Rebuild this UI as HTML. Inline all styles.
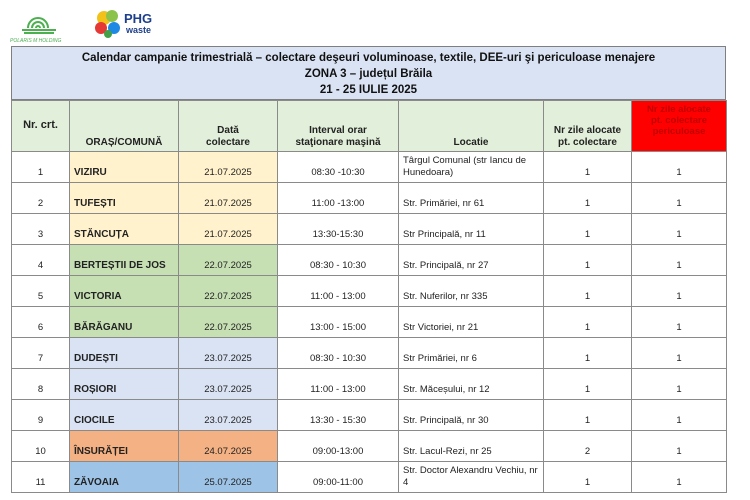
<!DOCTYPE html>
<html><head><meta charset="utf-8"><style>
body{margin:0;width:750px;height:500px;background:#fff;position:relative;overflow:hidden;font-family:"Liberation Sans",sans-serif;}
.hdr{position:absolute;left:11px;top:46px;width:715px;height:54px;background:#dae3f3;border:1px solid #7f7f7f;text-align:center;font-weight:bold;font-size:11.5px;line-height:16px;color:#111;padding-top:3px;box-sizing:border-box}
table{position:absolute;left:11px;top:100px;border-collapse:collapse;table-layout:fixed;font-size:9.5px;color:#222}
td{border:1px solid #8a8a8a;padding:0 4px 3px;vertical-align:bottom;text-align:center;height:27px;overflow:hidden;line-height:12px}
tr.h td{height:45px;background:#e2efda;font-weight:bold;font-size:10px;color:#222;padding-bottom:2px}
td.l{text-align:left}
td.n{font-weight:bold;text-align:left;font-size:10px}
.y{background:#fff2cc}.g{background:#c6e0b4}.b{background:#dae3f3}.o{background:#f4b183}.bl{background:#9dc3e6}
</style></head><body>
<svg style="position:absolute;left:8px;top:6px" width="62" height="38"><g fill="none" stroke="#4caf50" stroke-width="2"><path d="M20 22a10 10 0 0 1 20 0"/><path d="M24 22a6 6 0 0 1 12 0"/><path d="M28 22a2 2 0 0 1 4 0"/><line x1="14" y1="24" x2="48" y2="24"/><line x1="16" y1="27" x2="46" y2="27"/></g><text x="2" y="36" font-size="5" fill="#4caf50" font-style="italic">POLARIS M HOLDING</text></svg>
<svg style="position:absolute;left:92px;top:6px" width="72" height="34"><circle cx="12" cy="12" r="7" fill="#f2c21b"/><circle cx="20" cy="10" r="6" fill="#8bc34a"/><circle cx="9" cy="22" r="6" fill="#e53935"/><circle cx="22" cy="22" r="6" fill="#1e88e5"/><circle cx="16" cy="28" r="4" fill="#43a047"/><text x="32" y="17" font-size="13" font-weight="bold" fill="#1d3e8a">PHG</text><text x="34" y="27" font-size="9" font-weight="bold" fill="#1d3e8a">waste</text></svg>
<div class="hdr">Calendar campanie trimestrială – colectare deşeuri voluminoase, textile, DEE-uri şi periculoase menajere<br>ZONA 3 – județul Brăila<br>21 - 25 IULIE 2025</div>
<table>
<colgroup><col style="width:58px"><col style="width:109px"><col style="width:99px"><col style="width:121px"><col style="width:145px"><col style="width:88px"><col style="width:95px"></colgroup>
<tr class="h"><td style="vertical-align:middle;font-size:11px">Nr. crt.</td><td>ORAȘ/COMUNĂ</td><td>Dată<br>colectare</td><td>Interval orar<br>staţionare maşină</td><td>Locatie</td><td>Nr zile alocate<br>pt. colectare</td><td style="background:#ff0000;color:#c00000;vertical-align:top;padding-top:3px;font-size:9.5px;line-height:11px">Nr zile alocate<br>pt. colectare<br>periculoase</td></tr>
<tr><td>1</td><td class="n y">VIZIRU</td><td class="y">21.07.2025</td><td>08:30 -10:30</td><td class="l">Târgul Comunal (str Iancu de Hunedoara)</td><td>1</td><td>1</td></tr>
<tr><td>2</td><td class="n y">TUFEȘTI</td><td class="y">21.07.2025</td><td>11:00 -13:00</td><td class="l">Str. Primăriei, nr 61</td><td>1</td><td>1</td></tr>
<tr><td>3</td><td class="n y">STĂNCUȚA</td><td class="y">21.07.2025</td><td>13:30-15:30</td><td class="l">Str Principală, nr 11</td><td>1</td><td>1</td></tr>
<tr><td>4</td><td class="n g">BERTEȘTII DE JOS</td><td class="g">22.07.2025</td><td>08:30 - 10:30</td><td class="l">Str. Principală, nr 27</td><td>1</td><td>1</td></tr>
<tr><td>5</td><td class="n g">VICTORIA</td><td class="g">22.07.2025</td><td>11:00 - 13:00</td><td class="l">Str. Nuferilor, nr 335</td><td>1</td><td>1</td></tr>
<tr><td>6</td><td class="n g">BĂRĂGANU</td><td class="g">22.07.2025</td><td>13:00 - 15:00</td><td class="l">Str Victoriei, nr 21</td><td>1</td><td>1</td></tr>
<tr><td>7</td><td class="n b">DUDEȘTI</td><td class="b">23.07.2025</td><td>08:30 - 10:30</td><td class="l">Str Primăriei, nr 6</td><td>1</td><td>1</td></tr>
<tr><td>8</td><td class="n b">ROȘIORI</td><td class="b">23.07.2025</td><td>11:00 - 13:00</td><td class="l">Str. Măceșului, nr 12</td><td>1</td><td>1</td></tr>
<tr><td>9</td><td class="n b">CIOCILE</td><td class="b">23.07.2025</td><td>13:30 - 15:30</td><td class="l">Str. Principală, nr 30</td><td>1</td><td>1</td></tr>
<tr><td>10</td><td class="n o">ÎNSURĂȚEI</td><td class="o">24.07.2025</td><td>09:00-13:00</td><td class="l">Str. Lacul-Rezi, nr 25</td><td>2</td><td>1</td></tr>
<tr><td>11</td><td class="n bl">ZĂVOAIA</td><td class="bl">25.07.2025</td><td>09:00-11:00</td><td class="l">Str. Doctor Alexandru Vechiu, nr 4</td><td>1</td><td>1</td></tr>
</table>
</body></html>
